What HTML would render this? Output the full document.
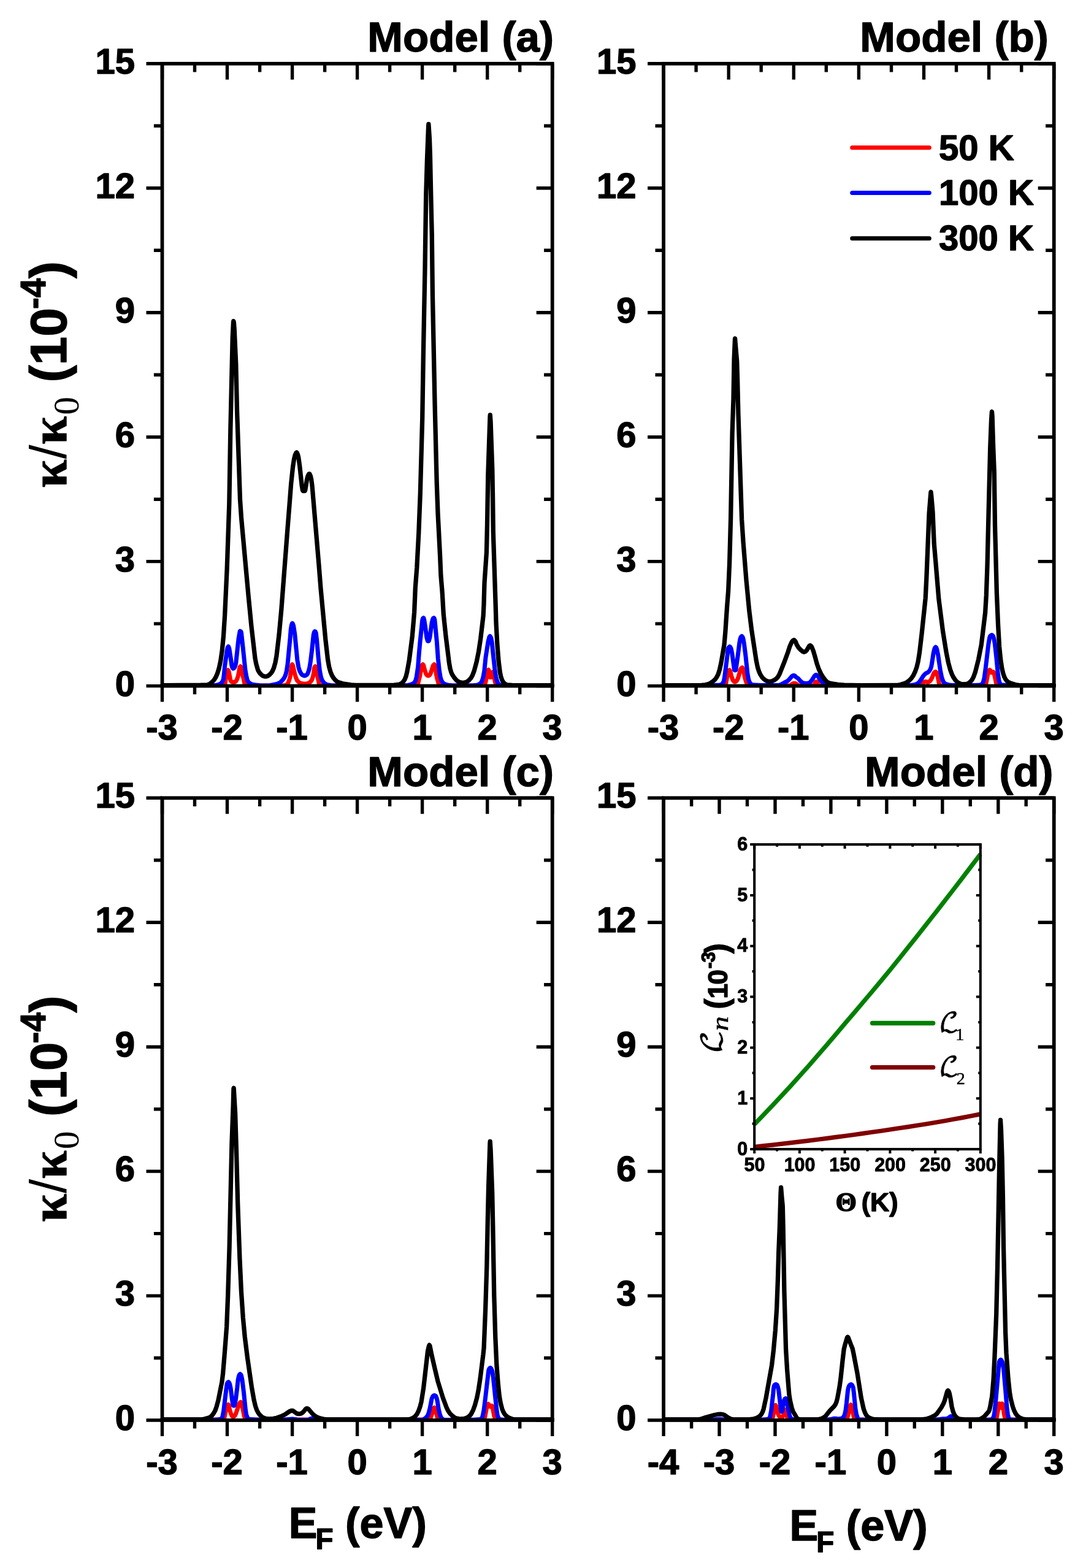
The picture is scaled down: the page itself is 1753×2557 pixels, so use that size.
<!DOCTYPE html>
<html lang="en"><head><meta charset="utf-8"><title>Thermal conductance versus Fermi energy</title>
<style>
html,body{margin:0;padding:0;background:#fff;}
body{width:1753px;height:2557px;overflow:hidden;}
svg{display:block;}
text{font-family:"Liberation Sans",sans-serif;font-weight:bold;fill:#000;}
.tl text{font-size:58px;}
.ttl{font-size:69.2px;}
.lg{font-size:58px;}
.itl text{font-size:30.5px;}
.sy{font-family:"Liberation Serif","DejaVu Serif",serif;}
.st,.tl text,.itl text{stroke:#000;stroke-width:1.4px;stroke-linejoin:round;}
.itl text{stroke-width:0.9px;}
.cal{font-family:"DejaVu Math TeX Gyre","DejaVu Sans",serif;font-weight:normal;stroke:#000;stroke-width:0.7px;}
.mi{font-family:"Liberation Serif","DejaVu Serif",serif;font-style:italic;font-weight:normal;stroke:#000;stroke-width:0.5px;}
.rm{font-family:"Liberation Serif","DejaVu Serif",serif;font-weight:normal;stroke:#000;stroke-width:0.5px;}
.cv path{fill:none;stroke-linejoin:round;stroke-linecap:round;}
</style></head><body>
<svg xmlns="http://www.w3.org/2000/svg" width="1753" height="2557" viewBox="0 0 1753 2557">
<rect x="0" y="0" width="1753" height="2557" fill="#fff"/>
<defs>
<clipPath id="cpa"><rect x="261.5" y="100.8" width="642.2" height="1019.3"/></clipPath>
<clipPath id="cpb"><rect x="1079.1" y="100.8" width="642.6" height="1019.3"/></clipPath>
<clipPath id="cpc"><rect x="261.5" y="1298.3" width="642.2" height="1019.2"/></clipPath>
<clipPath id="cpd"><rect x="1079.1" y="1298.3" width="642.6" height="1019.2"/></clipPath>
</defs>
<g class="cv" clip-path="url(#cpa)">
<path d="M264.5 1118L363.9 1117.9L366.2 1117.6L366.7 1116.7L369.5 1099.2L370.6 1094.4L371.1 1093.2L371.7 1092.6L372.5 1093.5L373.5 1096.8L375.5 1107.7L376.4 1110.5L377.3 1111.5L379.5 1112.5L380.5 1112.7L382.6 1112.3L383.6 1111.8L385.1 1110.5L386.6 1107.6L388.3 1102.2L389.6 1095.7L390.5 1090.3L391.1 1088L392.1 1086.7L393.1 1088L394.2 1092.5L395.4 1100.3L397.1 1106.4L398.9 1115.3L399.7 1117.2L400.2 1117.6L407.2 1118L461.4 1118L465 1117.5L467.6 1116.6L468.3 1116.1L469.5 1114.3L471.6 1109.4L473.2 1103.1L474.5 1094.5L475.7 1086.2L476.3 1083.9L476.6 1083.5L477.5 1085L480.8 1099.5L482.8 1105.8L484.6 1109.7L486.8 1112.1L489.6 1113.9L493.1 1114.8L496.5 1115.2L501.1 1114.6L504.3 1113.5L506.8 1111.3L508.5 1108.8L510 1104.8L511.4 1098.4L512.5 1089.7L513.3 1087.5L514.1 1086.7L514.7 1087.3L515.5 1089.3L516.9 1096.7L518.2 1105.1L519.6 1111.6L520.5 1116.5L520.8 1117.3L521.2 1117.6L527 1118L677.7 1117.9L680.9 1117.6L681.2 1117.2L682.6 1110.7L684.5 1103.4L687.3 1088.4L688.2 1085.2L688.8 1084.1L689.5 1083.5L690.6 1084.8L692.7 1092.7L694.4 1098.1L695.2 1099.8L695.9 1100.7L696.8 1101.4L698.3 1102L699.9 1101.4L700.7 1100.7L701.9 1099L704.3 1091.6L706.1 1085.9L706.7 1084.8L708.1 1083.5L708.7 1084.1L709.8 1087.2L710.5 1091.7L711.3 1099.3L712.8 1106.5L714.7 1112.8L715.4 1116.4L715.8 1117.2L716.2 1117.6L722.1 1118L786.7 1117.9L789.8 1117.6L790.4 1116.9L791.9 1112L793.7 1102.7L795.2 1095.4L796.1 1092.8L796.5 1092.3L797.4 1093.8L798.3 1099.1L798.8 1104.2L799 1104.5L800.4 1104.5L800.8 1103.1L801.3 1099.5L802.1 1097.2L803 1096.3L803.5 1096.9L805.7 1104.8L808.4 1115.8L808.8 1117L809.4 1117.6L822 1118L900.7 1118" stroke="#ff0000" stroke-width="7.0"/>
<path d="M264.5 1118L347.5 1117.9L353.4 1117.2L357.3 1116L360.1 1114.5L361.9 1112.7L363.5 1110L364.4 1107L365.4 1099.3L366.5 1086.7L370.2 1060.5L371.1 1056.2L371.5 1055.4L372.3 1054.3L372.7 1054.7L373.9 1058L376.5 1075.1L377.8 1085L378.7 1088.3L379.1 1089.1L380.2 1090.3L381.4 1089.8L382.5 1088.5L383.7 1085.7L384.7 1081.5L389 1041.6L391.2 1029.5L391.5 1029.2L393 1030.1L393.6 1032.6L396.1 1055.3L399.9 1091.9L401.6 1101.9L403.2 1108.6L404 1110.5L405.4 1112.6L407.2 1114.2L410 1115.7L414.1 1116.8L423.6 1117.7L433.1 1118L440 1117.8L451.3 1115.5L455.4 1113.8L457.9 1112.1L461.3 1108.4L463.7 1105.1L465.7 1100.5L467.3 1094.3L469 1083.3L473.2 1039.6L474.2 1026.7L475.4 1019.4L476.2 1017.1L476.8 1016.4L477.3 1016.9L478.6 1020.4L480.8 1034.3L483.3 1060.4L484.8 1076.2L486.8 1087.9L488.6 1093.9L490.8 1098.1L492.1 1099.8L493.2 1100.8L495.4 1101.8L496.5 1102L498.7 1101.4L499.8 1100.8L501.4 1099.1L503 1095.2L504.7 1089L506.3 1079.3L508.6 1060.4L511.2 1035.3L512.2 1031.4L512.8 1030.2L513.4 1029.5L514.2 1030L515.2 1032L516.6 1043.6L519.3 1074L521.3 1092.9L523.4 1103.9L525.1 1108.8L526.7 1111.5L528.2 1113.4L530.9 1115.4L534.2 1116.7L539.8 1117.7L547 1118L656.3 1117.9L665.1 1117.4L669.5 1116.4L672.9 1115.1L674.8 1113.8L676.4 1112.1L677.8 1109.4L679.1 1104.5L681.6 1087.7L683.3 1065.7L684.9 1047.9L688.6 1012.1L689.2 1009.4L689.8 1008.2L690.5 1007.6L691 1008.2L691.8 1011.2L694 1025.8L695.7 1038.8L697.2 1044.7L697.6 1045.4L699 1045.4L699.5 1044.7L701 1038.8L704.2 1015.3L705.6 1010L706.5 1008.2L707.4 1007.6L708.1 1008.4L708.9 1010.9L712.3 1045.8L714.3 1074L716.3 1092.9L718.1 1103.6L719.5 1108.7L720.9 1111.5L722.3 1113.4L724.1 1114.9L727 1116.2L731.3 1117.3L737.5 1117.9L770.8 1117.9L777.7 1117.3L780.8 1116.1L783.5 1114.4L784.8 1112.8L786.3 1109.8L787.8 1104.6L789.8 1093.9L792 1072L796.1 1045.8L797.7 1039.5L798.3 1038.1L799 1037.4L799.7 1038.1L800.8 1040.5L802.1 1046.8L804.5 1069.9L807 1092.9L808.7 1103.6L810.3 1109.8L811.6 1113.1L813.5 1115.7L815.3 1117.2L817.8 1117.6L833.7 1118L900.7 1118" stroke="#0000ff" stroke-width="7.0"/>
<path d="M264.5 1117.6L327.2 1117.2L337.8 1116.8L339.8 1116.4L342.6 1114.9L346 1112.1L349.2 1108.6L351.9 1104.3L354.5 1098.3L357.1 1089.9L359.8 1077.3L362.2 1060.4L364.4 1038.2L366.6 1003.7L370.2 926.4L373.8 821.6L375.8 701.5L379.2 551.5L380.4 526.3L380.8 523.6L381.4 526.3L382.2 536.7L384.8 593.8L386.6 671.9L391.5 815.1L393.6 845.7L405.1 971.6L410 1021.9L416 1073.6L417.9 1083.2L420.2 1091.3L421.4 1094.3L424 1098.1L426.9 1100.9L428.9 1102.3L431.9 1103.2L433.9 1103.2L436.9 1102.3L439.6 1100.3L442.4 1097.3L444.3 1094.3L446.5 1089.3L448.9 1080.7L450.9 1070L455 1035.3L458.7 995.7L469 861.3L471.9 824.7L474.6 789.7L477.6 761.2L479.5 748.8L481 742.5L482.5 739.2L483.1 738.2L483.7 737.8L484.3 738.2L485.4 740.8L486.7 745.6L488.7 759.7L492.1 791.3L493.3 798.7L493.9 800.4L494.4 800.7L497.1 800.6L497.8 798.9L499.2 790.5L500.4 782.3L502.1 776L503.7 773L504.4 772.6L504.9 772.9L506.4 776.2L507.7 782L509.1 792.7L519.9 920.3L523 959.5L530.8 1042.9L534.6 1076L536.6 1087.2L539 1095.8L541.3 1101.3L543.7 1105.4L546.5 1108.8L549.6 1111.5L553.1 1113.1L559.2 1114.8L572.6 1116.9L580 1117.3L642.6 1117.1L649.3 1116.4L652.9 1115.4L655.5 1113.7L657.7 1111.6L660 1108L662 1103.1L663.8 1095.8L667.2 1077.2L672.3 1037.5L674.3 1014.2L675.6 998.7L677.3 958.3L679.8 925.8L682.8 868.8L685.3 804.9L688.7 682.6L690.4 574.8L693 437.5L694.7 318.6L696.4 261.9L698.6 205.2L698.9 202.5L700.5 226.5L701.4 253.2L703 329.7L704.3 383.9L705.4 480.1L709.1 660.6L712.2 786.8L714 836.6L717.6 906.8L718.9 938.3L721.2 966.3L723.3 1002.2L727.1 1038.2L732.4 1080.9L734 1090L735.7 1096.1L737.4 1100L740.4 1104.6L744.2 1109.1L746.7 1111.1L749.8 1112.6L753.9 1113.4L756.2 1113.4L759.6 1112.6L762.4 1111.1L764.9 1109.1L768.1 1105.5L770.6 1100.9L773.2 1094.1L777.3 1078.8L780.5 1062.8L783.6 1042.2L788.1 1004.4L789 985.6L790 950.4L793.4 901.1L794.5 855.4L795.8 774.6L799 679.2L799.3 676.6L800.1 688.3L802.8 765L803.6 811.8L804.3 867.4L808.2 987.6L809 1015.5L810.9 1051.1L813.1 1078.3L815.3 1096L816.9 1103.7L818.7 1108.9L820.3 1112L822.4 1114.3L825.1 1116.2L827.2 1116.9L834.6 1117.5L900.7 1117.6" stroke="#000000" stroke-width="7.3"/>
</g>
<g class="cv" clip-path="url(#cpb)">
<path d="M1082.1 1117.6L1177.8 1117.7L1182.4 1118L1182.8 1117.8L1183.4 1116.5L1184.5 1110.4L1187 1096.7L1188.3 1093.7L1189.5 1092.7L1190.2 1093.4L1191.1 1095.7L1192.7 1102.6L1194.6 1108L1195.8 1110.2L1197.4 1111.7L1198.3 1112.1L1199.4 1111.7L1201.3 1110.2L1203.1 1107.1L1205.5 1099.3L1207.1 1092.9L1208.1 1090.6L1208.7 1089.8L1210.3 1088.6L1210.9 1089.3L1212.1 1092.2L1215 1106.6L1216.8 1112L1218.6 1116.8L1219.3 1117.7L1220.3 1118L1287.5 1118L1288.6 1117.8L1290.4 1116.5L1291.9 1115.3L1293.6 1114.5L1295.4 1114.2L1297.1 1114.5L1298.8 1115.3L1301.4 1117.6L1303.1 1118L1326.4 1118L1327.2 1117.6L1328.4 1115.6L1329.3 1113.6L1330.2 1112.1L1331.2 1111.5L1332.1 1112.1L1333.4 1114.5L1334.3 1116.8L1334.9 1117.6L1335.6 1118L1346.7 1117.6L1495.1 1117.7L1502.1 1118L1502.9 1117.7L1504.2 1115.9L1505.9 1112.8L1506.5 1112.2L1508.7 1111.5L1509.6 1111.4L1511.2 1112.2L1512.8 1112.5L1514.7 1112L1516.5 1110.7L1518.5 1108L1520.5 1103.7L1522.4 1098.6L1523.2 1097.2L1524.1 1096.3L1525.7 1095.4L1527.1 1096.8L1528 1099L1529.4 1104.5L1531.7 1116.4L1532.4 1117.8L1533.3 1118L1606.3 1118L1606.7 1117.8L1607.5 1116.5L1608.6 1111.7L1611.3 1097.9L1612.6 1093.9L1613.8 1092.4L1614.6 1092.9L1616 1096.4L1616.7 1096.9L1617.4 1096.7L1618.8 1095.6L1619.5 1095.4L1620.2 1096.1L1621 1098.3L1624.4 1113.1L1625.2 1116.9L1625.6 1117.7L1626 1118L1643 1117.6L1718.7 1117.6" stroke="#ff0000" stroke-width="7.0"/>
<path d="M1082.1 1117.6L1164.3 1117.5L1174.2 1116.9L1176.1 1116.4L1177.9 1115L1179.3 1112.9L1180.4 1110.4L1181.7 1103.2L1186.2 1067.9L1187 1059L1187.9 1056.5L1188.5 1055.6L1189.9 1054.4L1190.8 1055.1L1192.3 1058.3L1193.8 1065.6L1197.5 1092.6L1197.8 1092.9L1199.7 1092.9L1199.9 1092.6L1203.1 1070.1L1205.9 1047.8L1207.1 1041.4L1208.4 1038.5L1209.6 1037.4L1210.9 1038.8L1211.9 1041.5L1213.4 1049.6L1215.8 1068.5L1218.9 1097.9L1220.5 1107.3L1221.6 1110.8L1223.2 1114L1224.6 1115.6L1226.2 1116.4L1230.5 1117.1L1240.8 1117.4L1270.5 1117.3L1272.6 1116.7L1279 1113.2L1283.6 1111L1286 1109.1L1291.2 1103L1292.8 1101.9L1294.4 1101.4L1295.3 1101.7L1296.3 1102.2L1298.1 1104.2L1301.9 1106.7L1305.1 1110.5L1307.6 1112.7L1309.4 1113.6L1313.5 1114.5L1316.5 1114.3L1319.5 1113.6L1321.1 1112.6L1324.6 1108.2L1328.3 1102.2L1329.8 1100.8L1330.8 1100.4L1331.8 1100.8L1333.3 1102.2L1337.7 1109.2L1341.3 1112.9L1345.6 1116.7L1346.6 1117.2L1349.3 1117.5L1403.4 1117.6L1485.2 1117.5L1489.1 1117.1L1493.9 1115.8L1496.6 1114.3L1499 1112.4L1501 1109.7L1505.9 1101.9L1508.8 1098.8L1510.6 1097.7L1513.4 1096.3L1515.1 1094.6L1517 1091.7L1518.5 1087.6L1519.7 1081.5L1522.1 1065.3L1523.7 1058.5L1524.8 1055.9L1525.7 1055.2L1526.8 1056.3L1527.8 1059L1529.8 1068.8L1533.5 1094L1535.8 1104.9L1537.6 1110.2L1539.1 1113L1540.8 1114.5L1543 1115.7L1547.6 1116.9L1553 1117.4L1592.5 1117.3L1597.8 1116.9L1601 1116.1L1602.1 1115L1603.4 1111.9L1605 1105.9L1607.3 1089.1L1611.9 1050.1L1613.7 1039.9L1614.2 1038.3L1614.9 1037.1L1615.8 1036.3L1617.4 1035.5L1618.7 1036.4L1619.5 1037.5L1620.6 1040.7L1622.3 1049.7L1624.9 1073.1L1627.3 1098.9L1628.9 1109.1L1630.4 1114.3L1631.4 1116L1632 1116.4L1634.8 1117.1L1642.9 1117.5L1718.7 1117.6" stroke="#0000ff" stroke-width="7.0"/>
<path d="M1082.1 1117.6L1143.8 1117.3L1150 1116.8L1155 1115.6L1158 1114.2L1162.7 1111.1L1166.1 1108L1168.6 1104.5L1171.1 1099.6L1173.5 1091.9L1176 1080.6L1181 1051.4L1182.7 1032.4L1185.5 990.7L1187.6 963.9L1189.6 918.3L1191.6 845.9L1194.1 706L1196 651L1197.1 585.1L1198.5 552.3L1198.6 552.1L1200.2 571.5L1201.7 588.5L1202.6 618.3L1203.9 674L1208.2 804.9L1209.6 846.9L1212.1 884.9L1217 946.2L1221.8 996.3L1225.6 1027.1L1233.1 1076.5L1235.4 1087.9L1237.7 1095.1L1239.9 1099.9L1242.9 1104.6L1245 1106.9L1248.4 1109.4L1251.1 1110.8L1253.4 1111.3L1255.9 1111.4L1259 1110.8L1263 1108.9L1265.9 1106.8L1268.2 1104.4L1271 1099.6L1278.7 1080.4L1285 1063.2L1287.9 1054.2L1290.4 1048.3L1292 1045.6L1293.6 1044.1L1294.8 1043.7L1295.8 1044.3L1297.2 1046.2L1299.2 1051.1L1301.9 1055.7L1304.8 1058.9L1309 1062.6L1311.1 1063.3L1313.1 1062.6L1314.1 1061.9L1315.7 1060.1L1319.7 1053.4L1321.1 1052.5L1322.2 1053.1L1323.7 1055L1326.7 1062.7L1329.3 1071.8L1332 1081.9L1335.1 1090.9L1338.7 1098.6L1342.7 1105.1L1346.5 1109.9L1348.9 1112.3L1350.7 1113.3L1355.5 1114.7L1366.6 1116.4L1376.7 1117.2L1400.8 1117.6L1462.6 1117.5L1468.1 1116.5L1475.6 1114.3L1479.1 1112.5L1483.1 1109.4L1486.5 1105.7L1489.4 1101.4L1492.5 1094.9L1494.9 1087.9L1497.1 1078.8L1499.5 1063.9L1503 1034.2L1507.6 991L1509.2 975.3L1510.8 943.5L1515.1 836.8L1517 813.4L1517.9 802.5L1518 802.3L1518.7 808.1L1521 834.7L1523.2 886.4L1526 918.8L1530.8 976.5L1537.5 1029.1L1543.1 1063.9L1546.5 1080.9L1549.5 1091.9L1552.3 1099.6L1555.2 1105.2L1558 1109.2L1561.2 1112.5L1564 1114.1L1567.1 1115.4L1569.3 1115.8L1576.8 1115.3L1579 1114.5L1582.5 1111.7L1585.1 1108.5L1587.5 1104.1L1590.3 1096.3L1595.6 1075.3L1600.3 1051.3L1606.6 999.3L1608.3 971L1610 922.9L1612.7 809.9L1614.7 730.6L1616.5 684.8L1617.4 671.6L1617.5 671.4L1618.1 678.2L1619.6 726.7L1621.3 769.8L1622.5 856.9L1625.4 967.5L1627.6 1019.2L1629.6 1054.3L1631.7 1075.3L1633.7 1088.9L1635.9 1098.5L1637.7 1103.7L1639.7 1107.6L1641.6 1110.1L1644.1 1112.2L1647.8 1114.1L1655.8 1116.5L1661.3 1117.4L1670.8 1117.6L1718.7 1117.6" stroke="#000000" stroke-width="7.3"/>
</g>
<g class="cv" clip-path="url(#cpc)">
<path d="M264.5 2315L357.9 2315.1L363.9 2315.4L364.4 2315.2L365.3 2313.8L366.8 2307.8L369 2296.7L370.1 2293L371.3 2291L372.1 2290.4L372.8 2291.2L373.8 2294.6L374.9 2300.3L376.8 2305.9L378.1 2308.7L378.7 2309.5L380.3 2310.5L381.2 2310.1L382.8 2308.8L384.7 2305.1L389.7 2290.4L391.1 2287.5L392.6 2286.4L393.2 2287L394.2 2289.1L395.8 2296.7L397.7 2307.2L398.8 2311L400.4 2314.1L401.2 2315L402.2 2315.4L423.9 2315L694.1 2315.1L699.5 2315.4L700.2 2315.2L701.5 2313.7L704 2307.3L706.6 2297.8L707.1 2296.9L708.3 2295.5L709.6 2296.9L710.8 2300.4L713.9 2314.3L714.4 2315.1L715.1 2315.4L788.7 2315.4L789.2 2315.2L790 2313.9L791.1 2309.1L794 2294.2L795 2291.1L795.6 2290.1L796.2 2289.5L796.9 2290L798.4 2293.4L799.1 2293.9L799.8 2293.7L801.2 2292.5L801.9 2292.3L802.5 2293L803.4 2296.2L805.7 2308.7L807.2 2313.1L807.9 2314.2L808.6 2315.1L809.4 2315.4L828.8 2315L900.7 2315" stroke="#ff0000" stroke-width="7.0"/>
<path d="M264.5 2315L340.1 2315.1L350.1 2315.4L356.8 2314.8L360.2 2313.8L361.8 2312.7L362.8 2310.4L364.6 2301.1L368.7 2267.2L370 2257.7L370.5 2255.9L371.5 2254.3L372.5 2253.7L373.9 2255.2L374.9 2257.9L376.3 2264.8L378.1 2279.7L379.6 2289.8L380 2291.4L380.5 2292.3L382.2 2292.3L382.5 2291.8L384.4 2282.2L386.8 2263.2L388.1 2250.5L389.3 2244.6L390.4 2241.6L391.6 2240.6L392.8 2241.8L393.7 2243.9L394.9 2249.8L397.4 2269.7L400.4 2299.2L401.7 2307L402.9 2310.5L404.1 2312.6L405.7 2314.2L407.5 2314.6L416.5 2315L423.7 2315.4L462.9 2315.3L476.9 2314L481.8 2314.7L486 2315.4L503.3 2315.3L505.5 2313.8L507.7 2313.2L509.6 2313.8L511.5 2315.3L521.8 2315.3L546.7 2315L673.7 2315.1L682.4 2315.4L688.9 2315.3L690 2315L692.1 2313.9L695.3 2311.1L697.2 2308.6L698.9 2304.8L701.2 2295.9L703.9 2281.6L705.5 2277.5L706 2276.8L707.1 2275.8L708.3 2275.5L709.5 2275.8L710.7 2276.8L711.9 2279.4L713 2283.6L715.5 2299.2L717.4 2306.7L719.1 2311.3L720.3 2313L722 2314.3L724.1 2315.3L731 2315.4L773.2 2315.3L782.2 2314.5L784.4 2313.9L785.2 2313.5L786 2312.4L787.3 2308.1L789.1 2299L791.5 2279.8L794.9 2250.1L796.8 2234.5L797.6 2232.4L798.1 2231.6L799.4 2230.5L800.2 2230.9L801.5 2232.7L802.7 2235.9L804.3 2246.2L808.6 2287.8L810.3 2302.4L811.4 2308.5L812.5 2311.5L813.7 2313.4L814.3 2314.1L815.9 2314.8L820.1 2315.4L840.3 2315L900.7 2315" stroke="#0000ff" stroke-width="7.0"/>
<path d="M264.5 2315L314.6 2314.9L327.3 2315L332.9 2314.1L339.6 2312.4L342.6 2311.1L345 2309.2L348.2 2305.1L350.8 2300.4L353.1 2294L355.9 2283.7L361.9 2253.6L363.6 2239.8L365.8 2213.3L367.8 2187.7L369.6 2164L371.6 2114.5L374.1 2033.8L377.9 1865.7L380.2 1802.4L380.9 1775.4L381.2 1774.2L383.6 1815.2L385.6 1880.9L387.7 1962.3L390.9 2051.9L393.5 2107.3L396.3 2148.8L399.2 2179.7L403.5 2214.3L410.4 2261.8L414.1 2282.9L416.5 2292.9L418.8 2299.6L421.2 2304.1L423.6 2307.3L426.8 2310.2L429.6 2312L433.8 2313.4L439.3 2314L445.8 2313.4L451.2 2312.2L459.8 2309.1L464.6 2306.7L472.5 2301.4L474.4 2300.7L476.3 2300.4L478.2 2300.9L483.6 2304.9L485.7 2305.5L488.2 2305.7L490.5 2305.2L493.5 2303.6L496.4 2300.4L498.4 2297.7L499.4 2297L500.5 2296.7L501.6 2297L502.8 2297.7L504.3 2299.4L509.5 2305.5L513 2308.6L516.8 2310.8L521.9 2312.8L530.6 2314.7L535.1 2315L663.3 2314.9L668.6 2314.3L671.6 2313.2L675.2 2311.2L677.5 2309.1L680 2305.9L682.4 2301.2L684.9 2294.3L687.1 2285.8L690.6 2263.8L694.2 2232.4L697.5 2203.3L699 2196.8L699.4 2194.9L700.2 2193.4L701 2194.9L704.1 2210.4L709.2 2232.4L713.9 2252.2L722.2 2279.2L728.4 2295.9L730.6 2300.4L733.7 2305L737.4 2308.7L741.1 2311.5L744 2312.8L748.4 2313.7L751.7 2314L757.1 2313.4L761.3 2312L764.2 2310.2L766.7 2308L768.5 2305.5L771.5 2299.6L774.6 2290.9L777.7 2279.5L780.2 2267L783.2 2247.1L788 2208.6L789.1 2197.8L791.7 2133.1L793.8 2065.4L795.3 1990.6L796.5 1937.8L798.9 1865.3L799.2 1861.3L800.1 1874.9L802.7 1945.3L803.8 1999.7L805.8 2113.3L807.8 2180.9L809.8 2225.1L812.3 2257.5L814.3 2276.5L816.3 2287.9L818.6 2296.9L820.3 2301.5L822.5 2305.5L824.5 2308L826.9 2310.1L829.8 2311.9L835.5 2314.2L838.5 2314.8L859.9 2315L900.7 2315" stroke="#000000" stroke-width="7.3"/>
</g>
<g class="cv" clip-path="url(#cpd)">
<path d="M1082.1 2315L1252.7 2315.1L1258.1 2315.4L1258.6 2315.2L1259.4 2313.8L1260.7 2309L1262.1 2301.4L1263.4 2293.9L1263.8 2292.8L1264.6 2291.4L1265.2 2292L1265.9 2294.1L1267.4 2301.1L1269.2 2306.6L1270.8 2309.8L1271.3 2310.5L1272.7 2311.6L1274.2 2312L1275.6 2311.2L1276.9 2309.2L1280.3 2300L1281.3 2298.9L1282.1 2300.7L1284.3 2313.8L1284.9 2315.2L1285.2 2315.4L1290.8 2315L1376.5 2315.1L1379.7 2315.4L1380.2 2315.2L1381.1 2313.9L1382.6 2309L1385 2298.6L1386.4 2292.4L1387.5 2290.8L1388.4 2292.4L1392.2 2310.3L1393.2 2313.8L1394 2315.2L1394.4 2315.4L1401.1 2315L1617.9 2315.1L1623.7 2315.4L1624.1 2315.2L1624.8 2313.8L1627.1 2301.6L1628.6 2291L1629 2289.6L1629.4 2288.9L1629.8 2290.6L1630.5 2295.2L1630.8 2295.7L1632.9 2295.7L1633.2 2295.2L1634 2289.4L1634.2 2288.9L1634.6 2289.6L1635.4 2293L1637.3 2305.7L1639 2313.8L1639.7 2315.2L1640.1 2315.4L1645.8 2315L1718.7 2315" stroke="#ff0000" stroke-width="7.0"/>
<path d="M1082.1 2315L1156.3 2315.1L1164.6 2315.4L1166.7 2315L1169.7 2314.4L1173.8 2314.3L1177.8 2314.8L1179.6 2315.3L1244.9 2315.3L1250.8 2314.6L1253.1 2313.8L1254.7 2312.7L1255.7 2310.4L1257.7 2300.1L1260.8 2272.4L1261.5 2264L1262.2 2260.4L1262.9 2258.8L1264 2257.8L1265 2257.5L1266.1 2257.8L1267.3 2258.8L1268.4 2261.5L1269.7 2267.1L1273.4 2298.2L1273.8 2301.6L1274 2301.9L1275.4 2301.9L1275.8 2300.8L1276.8 2292.2L1278.2 2285.3L1279.2 2282.2L1280.1 2280.9L1281.1 2280.4L1282 2281.8L1284 2291L1287.1 2306.2L1288.5 2311L1289.6 2312.7L1291.6 2314.3L1293.8 2315.1L1297.3 2315.4L1306.4 2315L1343.6 2315.1L1350.7 2315.3L1356 2314.2L1360.3 2313.2L1362.5 2313.2L1366.5 2314L1370.6 2313.6L1372.7 2313L1374.8 2311.6L1376.1 2309.9L1377.4 2306.7L1378.9 2300.4L1380.5 2287.7L1382.5 2267.8L1383.6 2262.5L1384.7 2259.9L1386 2258.4L1386.9 2257.8L1387.9 2257.5L1388.8 2258L1390.1 2259.7L1391.3 2262.8L1392.3 2270.7L1394.9 2296.9L1396.5 2306.1L1398.7 2312.8L1399.8 2314.5L1401.1 2315L1411.1 2315.4L1422 2315L1521.4 2315.1L1524.5 2315.4L1530.7 2314.6L1537.5 2313.8L1543.9 2313.4L1546.1 2312.7L1547.7 2311.7L1549.2 2310.2L1550.6 2309.6L1552 2310.4L1554.9 2314.2L1555.9 2315.1L1557.5 2315.4L1613.8 2315.3L1616.9 2314.8L1618.2 2314.1L1619.3 2312.6L1620.6 2309.4L1621.7 2303.7L1623.8 2283.9L1629.3 2221.6L1630 2219.3L1630.5 2218.5L1631.8 2217.3L1632.6 2217.8L1633.8 2219.5L1635.2 2223.4L1636.7 2233.6L1639.4 2264.3L1642 2296L1643.4 2306.5L1644.8 2312.1L1645.7 2314L1646.3 2314.5L1649 2315.1L1653.5 2315.4L1661.6 2315L1718.7 2315" stroke="#0000ff" stroke-width="7.0"/>
<path d="M1082.1 2315L1138.8 2314.9L1141.7 2314.4L1150.6 2311.5L1165 2307.5L1170.2 2306.5L1175.2 2306.1L1178.3 2306.5L1181.3 2307.4L1188.4 2312.4L1192 2314.1L1194.9 2314.6L1207.9 2315L1222.8 2314.6L1229.2 2313.8L1233.6 2312.4L1236.7 2310.8L1239.5 2308.7L1241.5 2306.4L1243.5 2302.6L1245.2 2297.6L1249.1 2279.5L1258.6 2226.1L1261.4 2202L1264.3 2169.8L1266.6 2134.8L1268.4 2087.2L1269.7 2041.8L1271.3 2003.3L1273 1946.8L1273.6 1936.3L1274.9 1952L1276.3 1966.7L1277.1 2000.1L1278.9 2105.4L1281.6 2201L1283.7 2235.2L1286.8 2273.6L1288.4 2283.9L1291.2 2295.9L1293.1 2301.5L1297.5 2309L1298.9 2311.9L1300 2313.2L1302.7 2314.3L1306.3 2315L1332.6 2315L1336.9 2314.2L1340.9 2312.9L1344.6 2310.7L1346.9 2308.6L1350.8 2303.6L1353.4 2300.3L1360.2 2293.4L1362.1 2290.7L1363.9 2286.5L1365.5 2280.6L1369 2261.7L1370.9 2248.1L1374.1 2217.8L1376.2 2200L1378 2192.8L1381.4 2181.3L1382.3 2180.3L1383.2 2181.3L1387.6 2192.8L1390.1 2198.9L1391.7 2206.2L1397.9 2238.7L1401.7 2262.8L1404.3 2279.5L1408.3 2297.6L1410.5 2303.7L1412.4 2307.4L1414.5 2309.9L1417.1 2311.9L1421 2313.5L1424.4 2314.4L1433.4 2315L1502.8 2314.9L1511.1 2313.8L1516 2312.3L1521.8 2309.7L1525.6 2307.4L1527.8 2305.3L1535.2 2295.1L1538.7 2288.6L1540.5 2283.7L1544.4 2269.8L1544.9 2268.6L1545.8 2267.5L1546.9 2268.6L1548.2 2272.1L1550.1 2281.3L1552.1 2293.8L1554 2301.3L1555.9 2306.1L1558.2 2309.7L1560.4 2311.8L1563.2 2313.6L1565.3 2314.2L1573.2 2315L1592.5 2314.9L1597.8 2314.3L1601 2312.9L1603.7 2311.2L1607.3 2307.5L1612 2302.2L1613.3 2299.6L1614.8 2293.4L1617.8 2276.4L1620.1 2249.4L1621.9 2213.5L1624.7 2143.6L1626.6 2063.2L1629.7 1896.9L1631.1 1832.8L1631.5 1826.5L1632.5 1842.6L1634.1 1888.8L1635.4 1951.3L1636.5 2033L1639.6 2172.3L1641 2206.5L1644.1 2248.2L1646.5 2270.9L1648.4 2281.9L1651.5 2293.9L1653.8 2300.4L1656.4 2305.5L1658.9 2308.8L1661.4 2310.9L1665.2 2312.9L1668.4 2314.1L1672.6 2314.7L1684.1 2315L1718.7 2315" stroke="#000000" stroke-width="7.3"/>
</g>
<g class="ax" id="ax-a">
<rect x="264.5" y="103.8" width="636.2" height="1014.8" fill="none" stroke="#000" stroke-width="5.8"/>
<path d="M264.5 1118.6L264.5 1144.6 M264.5 103.8L264.5 129.8 M370.5 1118.6L370.5 1144.6 M370.5 103.8L370.5 129.8 M476.6 1118.6L476.6 1144.6 M476.6 103.8L476.6 129.8 M582.6 1118.6L582.6 1144.6 M582.6 103.8L582.6 129.8 M688.6 1118.6L688.6 1144.6 M688.6 103.8L688.6 129.8 M794.7 1118.6L794.7 1144.6 M794.7 103.8L794.7 129.8 M900.7 1118.6L900.7 1144.6 M900.7 103.8L900.7 129.8 M317.5 1118.6L317.5 1132.2 M317.5 103.8L317.5 117.4 M423.6 1118.6L423.6 1132.2 M423.6 103.8L423.6 117.4 M529.6 1118.6L529.6 1132.2 M529.6 103.8L529.6 117.4 M635.6 1118.6L635.6 1132.2 M635.6 103.8L635.6 117.4 M741.7 1118.6L741.7 1132.2 M741.7 103.8L741.7 117.4 M847.7 1118.6L847.7 1132.2 M847.7 103.8L847.7 117.4 M264.5 1118.6L238.5 1118.6 M900.7 1118.6L874.7 1118.6 M264.5 915.6L238.5 915.6 M900.7 915.6L874.7 915.6 M264.5 712.7L238.5 712.7 M900.7 712.7L874.7 712.7 M264.5 509.7L238.5 509.7 M900.7 509.7L874.7 509.7 M264.5 306.8L238.5 306.8 M900.7 306.8L874.7 306.8 M264.5 103.8L238.5 103.8 M900.7 103.8L874.7 103.8 M264.5 1017.1L250.9 1017.1 M900.7 1017.1L887.1 1017.1 M264.5 814.2L250.9 814.2 M900.7 814.2L887.1 814.2 M264.5 611.2L250.9 611.2 M900.7 611.2L887.1 611.2 M264.5 408.2L250.9 408.2 M900.7 408.2L887.1 408.2 M264.5 205.3L250.9 205.3 M900.7 205.3L887.1 205.3" fill="none" stroke="#000" stroke-width="5.4"/>
</g>
<g class="tl" id="tl-a">
<text x="264" y="1206.3" text-anchor="middle">-3</text>
<text x="370" y="1206.3" text-anchor="middle">-2</text>
<text x="476.1" y="1206.3" text-anchor="middle">-1</text>
<text x="582.6" y="1206.3" text-anchor="middle">0</text>
<text x="688.6" y="1206.3" text-anchor="middle">1</text>
<text x="794.7" y="1206.3" text-anchor="middle">2</text>
<text x="900.7" y="1206.3" text-anchor="middle">3</text>
<text x="220" y="1135.2" text-anchor="end">0</text>
<text x="220" y="932.2" text-anchor="end">3</text>
<text x="220" y="729.3" text-anchor="end">6</text>
<text x="220" y="526.3" text-anchor="end">9</text>
<text x="220" y="323.4" text-anchor="end">12</text>
<text x="220" y="120.4" text-anchor="end">15</text>
</g>
<g class="ax" id="ax-b">
<rect x="1082.1" y="103.8" width="636.6" height="1014.8" fill="none" stroke="#000" stroke-width="5.8"/>
<path d="M1082.1 1118.6L1082.1 1144.6 M1082.1 103.8L1082.1 129.8 M1188.2 1118.6L1188.2 1144.6 M1188.2 103.8L1188.2 129.8 M1294.3 1118.6L1294.3 1144.6 M1294.3 103.8L1294.3 129.8 M1400.4 1118.6L1400.4 1144.6 M1400.4 103.8L1400.4 129.8 M1506.5 1118.6L1506.5 1144.6 M1506.5 103.8L1506.5 129.8 M1612.6 1118.6L1612.6 1144.6 M1612.6 103.8L1612.6 129.8 M1718.7 1118.6L1718.7 1144.6 M1718.7 103.8L1718.7 129.8 M1135.1 1118.6L1135.1 1132.2 M1135.1 103.8L1135.1 117.4 M1241.2 1118.6L1241.2 1132.2 M1241.2 103.8L1241.2 117.4 M1347.3 1118.6L1347.3 1132.2 M1347.3 103.8L1347.3 117.4 M1453.5 1118.6L1453.5 1132.2 M1453.5 103.8L1453.5 117.4 M1559.5 1118.6L1559.5 1132.2 M1559.5 103.8L1559.5 117.4 M1665.7 1118.6L1665.7 1132.2 M1665.7 103.8L1665.7 117.4 M1082.1 1118.6L1056.1 1118.6 M1718.7 1118.6L1692.7 1118.6 M1082.1 915.6L1056.1 915.6 M1718.7 915.6L1692.7 915.6 M1082.1 712.7L1056.1 712.7 M1718.7 712.7L1692.7 712.7 M1082.1 509.7L1056.1 509.7 M1718.7 509.7L1692.7 509.7 M1082.1 306.8L1056.1 306.8 M1718.7 306.8L1692.7 306.8 M1082.1 103.8L1056.1 103.8 M1718.7 103.8L1692.7 103.8 M1082.1 1017.1L1068.5 1017.1 M1718.7 1017.1L1705.1 1017.1 M1082.1 814.2L1068.5 814.2 M1718.7 814.2L1705.1 814.2 M1082.1 611.2L1068.5 611.2 M1718.7 611.2L1705.1 611.2 M1082.1 408.2L1068.5 408.2 M1718.7 408.2L1705.1 408.2 M1082.1 205.3L1068.5 205.3 M1718.7 205.3L1705.1 205.3" fill="none" stroke="#000" stroke-width="5.4"/>
</g>
<g class="tl" id="tl-b">
<text x="1081.6" y="1206.3" text-anchor="middle">-3</text>
<text x="1187.7" y="1206.3" text-anchor="middle">-2</text>
<text x="1293.8" y="1206.3" text-anchor="middle">-1</text>
<text x="1400.4" y="1206.3" text-anchor="middle">0</text>
<text x="1506.5" y="1206.3" text-anchor="middle">1</text>
<text x="1612.6" y="1206.3" text-anchor="middle">2</text>
<text x="1718.7" y="1206.3" text-anchor="middle">3</text>
<text x="1037.6" y="1135.2" text-anchor="end">0</text>
<text x="1037.6" y="932.2" text-anchor="end">3</text>
<text x="1037.6" y="729.3" text-anchor="end">6</text>
<text x="1037.6" y="526.3" text-anchor="end">9</text>
<text x="1037.6" y="323.4" text-anchor="end">12</text>
<text x="1037.6" y="120.4" text-anchor="end">15</text>
</g>
<g class="ax" id="ax-c">
<rect x="264.5" y="1301.3" width="636.2" height="1014.7" fill="none" stroke="#000" stroke-width="5.8"/>
<path d="M264.5 2316L264.5 2342 M264.5 1301.3L264.5 1327.3 M370.5 2316L370.5 2342 M370.5 1301.3L370.5 1327.3 M476.6 2316L476.6 2342 M476.6 1301.3L476.6 1327.3 M582.6 2316L582.6 2342 M582.6 1301.3L582.6 1327.3 M688.6 2316L688.6 2342 M688.6 1301.3L688.6 1327.3 M794.7 2316L794.7 2342 M794.7 1301.3L794.7 1327.3 M900.7 2316L900.7 2342 M900.7 1301.3L900.7 1327.3 M317.5 2316L317.5 2329.6 M317.5 1301.3L317.5 1314.9 M423.6 2316L423.6 2329.6 M423.6 1301.3L423.6 1314.9 M529.6 2316L529.6 2329.6 M529.6 1301.3L529.6 1314.9 M635.6 2316L635.6 2329.6 M635.6 1301.3L635.6 1314.9 M741.7 2316L741.7 2329.6 M741.7 1301.3L741.7 1314.9 M847.7 2316L847.7 2329.6 M847.7 1301.3L847.7 1314.9 M264.5 2316L238.5 2316 M900.7 2316L874.7 2316 M264.5 2113.1L238.5 2113.1 M900.7 2113.1L874.7 2113.1 M264.5 1910.1L238.5 1910.1 M900.7 1910.1L874.7 1910.1 M264.5 1707.2L238.5 1707.2 M900.7 1707.2L874.7 1707.2 M264.5 1504.2L238.5 1504.2 M900.7 1504.2L874.7 1504.2 M264.5 1301.3L238.5 1301.3 M900.7 1301.3L874.7 1301.3 M264.5 2214.5L250.9 2214.5 M900.7 2214.5L887.1 2214.5 M264.5 2011.6L250.9 2011.6 M900.7 2011.6L887.1 2011.6 M264.5 1808.7L250.9 1808.7 M900.7 1808.7L887.1 1808.7 M264.5 1605.7L250.9 1605.7 M900.7 1605.7L887.1 1605.7 M264.5 1402.8L250.9 1402.8 M900.7 1402.8L887.1 1402.8" fill="none" stroke="#000" stroke-width="5.4"/>
</g>
<g class="tl" id="tl-c">
<text x="264" y="2403.7" text-anchor="middle">-3</text>
<text x="370" y="2403.7" text-anchor="middle">-2</text>
<text x="476.1" y="2403.7" text-anchor="middle">-1</text>
<text x="582.6" y="2403.7" text-anchor="middle">0</text>
<text x="688.6" y="2403.7" text-anchor="middle">1</text>
<text x="794.7" y="2403.7" text-anchor="middle">2</text>
<text x="900.7" y="2403.7" text-anchor="middle">3</text>
<text x="220" y="2331.6" text-anchor="end">0</text>
<text x="220" y="2128.7" text-anchor="end">3</text>
<text x="220" y="1925.7" text-anchor="end">6</text>
<text x="220" y="1722.8" text-anchor="end">9</text>
<text x="220" y="1519.8" text-anchor="end">12</text>
<text x="220" y="1316.9" text-anchor="end">15</text>
</g>
<g class="ax" id="ax-d">
<rect x="1082.1" y="1301.3" width="636.6" height="1014.7" fill="none" stroke="#000" stroke-width="5.8"/>
<path d="M1082.1 2316L1082.1 2342 M1082.1 1301.3L1082.1 1327.3 M1173 2316L1173 2342 M1173 1301.3L1173 1327.3 M1264 2316L1264 2342 M1264 1301.3L1264 1327.3 M1354.9 2316L1354.9 2342 M1354.9 1301.3L1354.9 1327.3 M1445.9 2316L1445.9 2342 M1445.9 1301.3L1445.9 1327.3 M1536.8 2316L1536.8 2342 M1536.8 1301.3L1536.8 1327.3 M1627.8 2316L1627.8 2342 M1627.8 1301.3L1627.8 1327.3 M1718.7 2316L1718.7 2342 M1718.7 1301.3L1718.7 1327.3 M1127.6 2316L1127.6 2329.6 M1127.6 1301.3L1127.6 1314.9 M1218.5 2316L1218.5 2329.6 M1218.5 1301.3L1218.5 1314.9 M1309.5 2316L1309.5 2329.6 M1309.5 1301.3L1309.5 1314.9 M1400.4 2316L1400.4 2329.6 M1400.4 1301.3L1400.4 1314.9 M1491.3 2316L1491.3 2329.6 M1491.3 1301.3L1491.3 1314.9 M1582.3 2316L1582.3 2329.6 M1582.3 1301.3L1582.3 1314.9 M1673.2 2316L1673.2 2329.6 M1673.2 1301.3L1673.2 1314.9 M1082.1 2316L1056.1 2316 M1718.7 2316L1692.7 2316 M1082.1 2113.1L1056.1 2113.1 M1718.7 2113.1L1692.7 2113.1 M1082.1 1910.1L1056.1 1910.1 M1718.7 1910.1L1692.7 1910.1 M1082.1 1707.2L1056.1 1707.2 M1718.7 1707.2L1692.7 1707.2 M1082.1 1504.2L1056.1 1504.2 M1718.7 1504.2L1692.7 1504.2 M1082.1 1301.3L1056.1 1301.3 M1718.7 1301.3L1692.7 1301.3 M1082.1 2214.5L1068.5 2214.5 M1718.7 2214.5L1705.1 2214.5 M1082.1 2011.6L1068.5 2011.6 M1718.7 2011.6L1705.1 2011.6 M1082.1 1808.7L1068.5 1808.7 M1718.7 1808.7L1705.1 1808.7 M1082.1 1605.7L1068.5 1605.7 M1718.7 1605.7L1705.1 1605.7 M1082.1 1402.8L1068.5 1402.8 M1718.7 1402.8L1705.1 1402.8" fill="none" stroke="#000" stroke-width="5.4"/>
</g>
<g class="tl" id="tl-d">
<text x="1081.6" y="2403.7" text-anchor="middle">-4</text>
<text x="1172.5" y="2403.7" text-anchor="middle">-3</text>
<text x="1263.5" y="2403.7" text-anchor="middle">-2</text>
<text x="1354.4" y="2403.7" text-anchor="middle">-1</text>
<text x="1445.9" y="2403.7" text-anchor="middle">0</text>
<text x="1536.8" y="2403.7" text-anchor="middle">1</text>
<text x="1627.8" y="2403.7" text-anchor="middle">2</text>
<text x="1718.7" y="2403.7" text-anchor="middle">3</text>
<text x="1037.6" y="2331.6" text-anchor="end">0</text>
<text x="1037.6" y="2128.7" text-anchor="end">3</text>
<text x="1037.6" y="1925.7" text-anchor="end">6</text>
<text x="1037.6" y="1722.8" text-anchor="end">9</text>
<text x="1037.6" y="1519.8" text-anchor="end">12</text>
<text x="1037.6" y="1316.9" text-anchor="end">15</text>
</g>
<text class="ttl st" x="903" y="84.1" text-anchor="end">Model (a)</text>
<text class="ttl st" x="1709.8" y="84.1" text-anchor="end">Model (b)</text>
<text class="ttl st" x="903" y="1282.1" text-anchor="end">Model (c)</text>
<text class="ttl st" x="1717.5" y="1282.1" text-anchor="end">Model (d)</text>
<line x1="1389.7" y1="240.8" x2="1515.3" y2="240.8" stroke="#ff0000" stroke-width="7" stroke-linecap="round"/>
<text class="lg st" x="1531" y="261.2">50 K</text>
<line x1="1389.7" y1="314.5" x2="1515.3" y2="314.5" stroke="#0000ff" stroke-width="7" stroke-linecap="round"/>
<text class="lg st" x="1531" y="333.8">100 K</text>
<line x1="1389.7" y1="388.7" x2="1515.3" y2="388.7" stroke="#000" stroke-width="7" stroke-linecap="round"/>
<text class="lg st" x="1531" y="407.6">300 K</text>
<g transform="translate(108 794.5) rotate(-90)">
<text class="sy st" transform="translate(-0.5 0) scale(1 1)" font-size="82">κ</text>
<text x="46" y="0" font-size="84" style="font-weight:normal">/</text>
<text class="sy st" transform="translate(70 0) scale(1 1)" font-size="82">κ</text>
<text class="sy" x="118" y="20.3" font-size="59" style="font-weight:normal">0</text>
<text class="st" x="171" y="0" font-size="84">(10</text>
<text class="st" x="290.5" y="-34" font-size="56.5">-4</text>
<text class="st" x="340.5" y="0" font-size="84">)</text>
</g>
<g transform="translate(108 1991.9) rotate(-90)">
<text class="sy st" transform="translate(-0.5 0) scale(1 1)" font-size="82">κ</text>
<text x="46" y="0" font-size="84" style="font-weight:normal">/</text>
<text class="sy st" transform="translate(70 0) scale(1 1)" font-size="82">κ</text>
<text class="sy" x="118" y="20.3" font-size="59" style="font-weight:normal">0</text>
<text class="st" x="171" y="0" font-size="84">(10</text>
<text class="st" x="290.5" y="-34" font-size="56.5">-4</text>
<text class="st" x="340.5" y="0" font-size="84">)</text>
</g>
<text class="st" x="470.8" y="2507.5" font-size="70">E</text>
<text class="st" x="514.5" y="2525.7" font-size="47.5">F</text>
<text class="st" x="563" y="2507.5" font-size="70.3">(eV)</text>
<text class="st" x="1287.6" y="2512.4" font-size="70">E</text>
<text class="st" x="1331.3" y="2530.6" font-size="47.5">F</text>
<text class="st" x="1379.8" y="2512.4" font-size="70.3">(eV)</text>
<g id="inset">
<path d="M1230.2 1833.4L1244.9 1818.2L1259.7 1802.7L1274.4 1787L1289.2 1771L1303.9 1754.7L1318.7 1738.2L1333.4 1721.2L1348.2 1704.1L1362.9 1686.8L1377.6 1669.4L1392.4 1652.1L1407.1 1634.7L1421.9 1617.2L1436.6 1599.6L1451.4 1581.7L1466.1 1563.5L1480.8 1545.1L1495.6 1526.5L1510.3 1507.7L1525.1 1488.9L1539.8 1470L1554.6 1450.9L1569.3 1431.7L1584.1 1412.3L1598.8 1392.8" fill="none" stroke="#008000" stroke-width="7.2" stroke-linejoin="round"/>
<path d="M1230.2 1870.3L1244.9 1868.7L1259.7 1867.1L1274.4 1865.4L1289.2 1863.7L1303.9 1861.9L1318.7 1860.1L1333.4 1858.3L1348.2 1856.4L1362.9 1854.4L1377.6 1852.5L1392.4 1850.5L1407.1 1848.4L1421.9 1846.3L1436.6 1844.2L1451.4 1842L1466.1 1839.8L1480.8 1837.6L1495.6 1835.3L1510.3 1833L1525.1 1830.5L1539.8 1828L1554.6 1825.3L1569.3 1822.6L1584.1 1819.8L1598.8 1816.9" fill="none" stroke="#800000" stroke-width="7.2" stroke-linejoin="round"/>
<rect x="1230.2" y="1377.1" width="368.6" height="496.9" fill="none" stroke="#000" stroke-width="4.1"/>
<path d="M1230.2 1874L1230.2 1881 M1230.2 1377.1L1230.2 1384.1 M1303.9 1874L1303.9 1881 M1303.9 1377.1L1303.9 1384.1 M1377.6 1874L1377.6 1881 M1377.6 1377.1L1377.6 1384.1 M1451.4 1874L1451.4 1881 M1451.4 1377.1L1451.4 1384.1 M1525.1 1874L1525.1 1881 M1525.1 1377.1L1525.1 1384.1 M1598.8 1874L1598.8 1881 M1598.8 1377.1L1598.8 1384.1 M1267.1 1874L1267.1 1877.6 M1267.1 1377.1L1267.1 1380.7 M1340.8 1874L1340.8 1877.6 M1340.8 1377.1L1340.8 1380.7 M1414.5 1874L1414.5 1877.6 M1414.5 1377.1L1414.5 1380.7 M1488.2 1874L1488.2 1877.6 M1488.2 1377.1L1488.2 1380.7 M1561.9 1874L1561.9 1877.6 M1561.9 1377.1L1561.9 1380.7 M1230.2 1874L1223.2 1874 M1598.8 1874L1591.8 1874 M1230.2 1791.2L1223.2 1791.2 M1598.8 1791.2L1591.8 1791.2 M1230.2 1708.4L1223.2 1708.4 M1598.8 1708.4L1591.8 1708.4 M1230.2 1625.5L1223.2 1625.5 M1598.8 1625.5L1591.8 1625.5 M1230.2 1542.7L1223.2 1542.7 M1598.8 1542.7L1591.8 1542.7 M1230.2 1459.9L1223.2 1459.9 M1598.8 1459.9L1591.8 1459.9 M1230.2 1377.1L1223.2 1377.1 M1598.8 1377.1L1591.8 1377.1 M1230.2 1832.6L1226.6 1832.6 M1598.8 1832.6L1595.2 1832.6 M1230.2 1749.8L1226.6 1749.8 M1598.8 1749.8L1595.2 1749.8 M1230.2 1667L1226.6 1667 M1598.8 1667L1595.2 1667 M1230.2 1584.1L1226.6 1584.1 M1598.8 1584.1L1595.2 1584.1 M1230.2 1501.3L1226.6 1501.3 M1598.8 1501.3L1595.2 1501.3 M1230.2 1418.5L1226.6 1418.5 M1598.8 1418.5L1595.2 1418.5" fill="none" stroke="#000" stroke-width="4.0"/>
<g class="itl">
<text x="1230.4" y="1910.4" text-anchor="middle">50</text>
<text x="1304.1" y="1910.4" text-anchor="middle">100</text>
<text x="1377.8" y="1910.4" text-anchor="middle">150</text>
<text x="1451.6" y="1910.4" text-anchor="middle">200</text>
<text x="1525.3" y="1910.4" text-anchor="middle">250</text>
<text x="1599" y="1910.4" text-anchor="middle">300</text>
<text x="1219.3" y="1883.6" text-anchor="end">0</text>
<text x="1219.3" y="1800.8" text-anchor="end">1</text>
<text x="1219.3" y="1718" text-anchor="end">2</text>
<text x="1219.3" y="1635.1" text-anchor="end">3</text>
<text x="1219.3" y="1552.3" text-anchor="end">4</text>
<text x="1219.3" y="1469.5" text-anchor="end">5</text>
<text x="1219.3" y="1386.7" text-anchor="end">6</text>
</g>
<text class="sy st" x="1362.5" y="1975.4" font-size="44.5">Θ</text>
<text class="st" x="1404.8" y="1975.4" font-size="43">(K)</text>
<g transform="translate(1185.6 1716) rotate(-90)">
<text class="cal" transform="translate(-1.8 -9.5) scale(1.11 1)" font-size="45">ℒ</text>
<text class="mi" transform="translate(34.8 1.4) scale(1.3 1)" font-size="37">n</text>
<text class="st" x="70.6" y="0.2" font-size="51">(</text>
<text class="st" x="87.6" y="0.2" font-size="44" textLength="47.5" lengthAdjust="spacing">10</text>
<text class="st" x="136.6" y="-20" font-size="30.5">-3</text>
<text class="st" x="160.8" y="0.2" font-size="51">)</text>
</g>
<line x1="1422.5" y1="1668.5" x2="1521.7" y2="1668.5" stroke="#008000" stroke-width="7.3" stroke-linecap="round"/>
<text class="cal" x="1531.5" y="1681.7" font-size="43">ℒ</text>
<text class="rm" x="1558.3" y="1695.8" font-size="28">1</text>
<line x1="1422.5" y1="1740.6" x2="1521.7" y2="1740.6" stroke="#800000" stroke-width="7.3" stroke-linecap="round"/>
<text class="cal" x="1531.5" y="1753.8" font-size="43">ℒ</text>
<text class="rm" x="1559.8" y="1767.9" font-size="28">2</text>
</g>
</svg></body></html>
